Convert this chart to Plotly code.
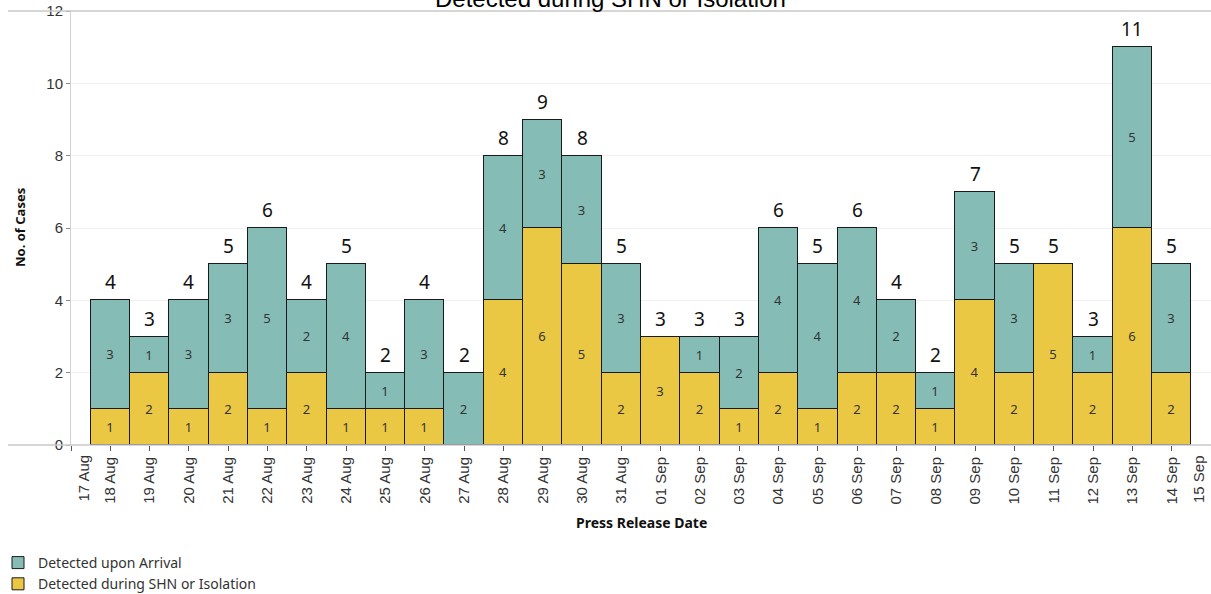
import plotly.graph_objects as go

dates = ["2020-08-18", "2020-08-19", "2020-08-20", "2020-08-21", "2020-08-22", "2020-08-23",
         "2020-08-24", "2020-08-25", "2020-08-26", "2020-08-27", "2020-08-28", "2020-08-29",
         "2020-08-30", "2020-08-31", "2020-09-01", "2020-09-02", "2020-09-03", "2020-09-04",
         "2020-09-05", "2020-09-06", "2020-09-07", "2020-09-08", "2020-09-09", "2020-09-10",
         "2020-09-11", "2020-09-12", "2020-09-13", "2020-09-14"]
arrival = [3, 1, 3, 3, 5, 2, 4, 1, 3, 2, 4, 3, 3, 3, 0, 1, 2, 4, 4, 4, 2, 1, 3, 3, 0, 1, 5, 3]
shn = [1, 2, 1, 2, 1, 2, 1, 1, 1, 0, 4, 6, 5, 2, 3, 2, 1, 2, 1, 2, 2, 1, 4, 2, 5, 2, 6, 2]
totals = [a + s for a, s in zip(arrival, shn)]

axis_start = "2020-08-17"
axis_end = "2020-09-15"
tick_dates = ["2020-08-17"] + dates + ["2020-09-15"]
tick_text = ["", "18 Aug", "19 Aug", "20 Aug", "21 Aug", "22 Aug", "23 Aug", "24 Aug", "25 Aug",
             "26 Aug", "27 Aug", "28 Aug", "29 Aug", "30 Aug", "31 Aug", "01 Sep", "02 Sep",
             "03 Sep", "04 Sep", "05 Sep", "06 Sep", "07 Sep", "08 Sep", "09 Sep", "10 Sep",
             "11 Sep", "12 Sep", "13 Sep", "14 Sep", ""]
edge_labels = ["17 Aug", "15 Sep"]

TEAL = "#86bcb6"
YELLOW = "#ebc844"
DAY_MS = 86400000

def nz(vals):
    return [v if v != 0 else None for v in vals]

def lbl(vals):
    return [str(v) if v != 0 else "" for v in vals]

fig = go.Figure()
fig.add_trace(go.Bar(
    x=dates, y=nz(shn), name="Detected during SHN or Isolation",
    marker=dict(color=YELLOW, line=dict(color="#1a1a1a", width=1)),
    width=DAY_MS, text=lbl(shn), textposition="inside", insidetextanchor="middle",
    textangle=0, constraintext="none",
    insidetextfont=dict(family="Noto Sans", size=13, color="#333333"),
    hoverinfo="skip",
))
fig.add_trace(go.Bar(
    x=dates, y=nz(arrival), name="Detected upon Arrival",
    marker=dict(color=TEAL, line=dict(color="#1a1a1a", width=1)),
    width=DAY_MS, text=lbl(arrival), textposition="inside", insidetextanchor="middle",
    textangle=0, constraintext="none",
    insidetextfont=dict(family="Noto Sans", size=13, color="#333333"),
    hoverinfo="skip",
))

annotations = []
for d, t in zip(dates, totals):
    annotations.append(dict(x=d, y=t, xref="x", yref="y", text=str(t), showarrow=False,
                            yanchor="bottom", yshift=3,
                            font=dict(family="Noto Sans", size=19, color="#111111")))

L, R, T, B = 71, 0, 11, 149
W, H = 1211, 594
pw = W - L - R
ph = H - T - B

def px_x(p):
    return (p - L) / pw

def px_y(p):
    return (H - B - p) / ph

# edge tick labels, nudged inward as in the reference
for txt, xp in zip(edge_labels, [83, 1199]):
    annotations.append(dict(x=px_x(xp), y=px_y(453), xref="paper", yref="paper", text=txt,
                            showarrow=False, textangle=-90, xanchor="center", yanchor="top",
                            font=dict(family="Liberation Sans", size=15, color="#333333")))

annotations.append(dict(x=px_x(610), y=px_y(14), xref="paper", yref="paper",
                        text="Detected during SHN or Isolation", showarrow=False,
                        xanchor="center", yanchor="bottom",
                        font=dict(family="Liberation Sans", size=24, color="#000000")))
annotations.append(dict(x=px_x(20), y=0.5, xref="paper", yref="paper", text="<b>No. of Cases</b>",
                        showarrow=False, textangle=-90, xanchor="center", yanchor="middle",
                        font=dict(family="Noto Sans", size=13, color="#111111")))
annotations.append(dict(x=px_x(641), y=px_y(522), xref="paper", yref="paper",
                        text="<b>Press Release Date</b>", showarrow=False,
                        xanchor="center", yanchor="middle",
                        font=dict(family="Noto Sans", size=14, color="#111111")))

shapes = [
    dict(type="line", xref="paper", yref="paper", x0=px_x(8), x1=1.0, y0=1, y1=1,
         line=dict(color="#c8c8c8", width=1.5)),
    dict(type="line", xref="paper", yref="paper", x0=px_x(8), x1=1.0, y0=0, y1=0,
         line=dict(color="#c8c8c8", width=1.5)),
]

fig.update_layout(
    width=W, height=H, barmode="stack", bargap=0,
    margin=dict(l=L, r=R, t=T, b=B, pad=0, autoexpand=False),
    plot_bgcolor="white", paper_bgcolor="white",
    annotations=annotations, shapes=shapes,
    showlegend=True,
    legend=dict(x=px_x(-2), y=px_y(547), xanchor="left", yanchor="top",
                orientation="v", traceorder="reversed", itemwidth=30,
                font=dict(family="Noto Sans", size=14, color="#333333"),
                bgcolor="rgba(0,0,0,0)"),
)
fig.update_xaxes(
    type="date", range=[axis_start, axis_end], automargin=False,
    tickmode="array", tickvals=tick_dates, ticktext=tick_text, tickangle=-90,
    ticks="outside", ticklen=5, tickcolor="#555555",
    tickfont=dict(family="Liberation Sans", size=15, color="#333333"),
    showgrid=False, showline=False, zeroline=False,
)
fig.update_yaxes(
    range=[0, 12], tick0=0, dtick=2, automargin=False,
    ticks="outside", ticklen=4, tickcolor="#888888",
    tickfont=dict(family="Liberation Sans", size=15, color="#333333"),
    showgrid=True, gridcolor="#f0f0f0", gridwidth=1,
    showline=True, linecolor="#d0d0d0", linewidth=1,
    zeroline=False,
)

fig.write_html("out.html", config={"displayModeBar": False},
               post_script="document.body.style.margin='0';document.body.style.overflow='hidden';")
